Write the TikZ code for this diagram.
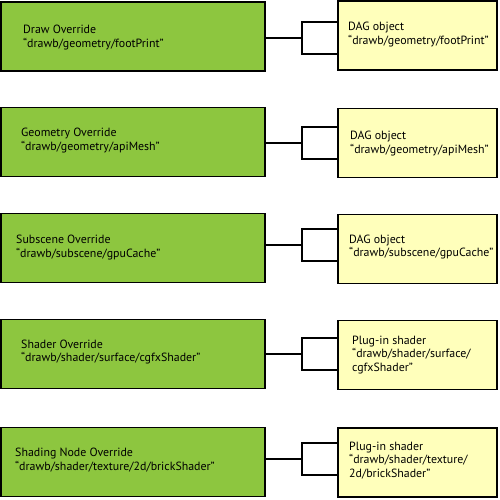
\documentclass[tikz,border=0pt]{standalone}
\usepackage{fontspec}
\setmainfont{PT Sans}
\usepackage{tikz}
\usetikzlibrary{positioning}
\definecolor{ovgreen}{RGB}{141,198,63}
\definecolor{objyellow}{RGB}{255,255,187}
\tikzset{
  overridebox/.style={rectangle, draw=black, fill=ovgreen,
    minimum width=264pt, minimum height=69pt, line width=1.8pt, inner sep=0pt},
  objbox/.style={rectangle, draw=black, fill=objyellow,
    minimum width=159pt, minimum height=69pt, line width=1.8pt, inner sep=0pt},
  boxtext/.style={anchor=west, align=left, inner sep=0pt,
    font=\fontsize{11.9}{13.8}\selectfont},
  link/.style={line width=2pt, color=black}
}
\begin{document}
\begin{tikzpicture}[x=1pt, y=-1pt]
  \useasboundingbox (0,0) rectangle (500,499);

  % Override boxes
  \node[overridebox] (g1) at (133,36.5) {};
  \node[overridebox] (g2) at (133,142) {};
  \node[overridebox] (g3) at (133,248) {};
  \node[overridebox] (g4) at (133,354) {};
  \node[overridebox] (g5) at (133,462) {};

  % Object boxes
  \node[objbox] (o1) at (417.5,35.5) {};
  \node[objbox] (o2) at (417.5,143) {};
  \node[objbox] (o3) at (417.5,249) {};
  \node[objbox] (o4) at (417.5,355) {};
  \node[objbox] (o5) at (417.5,462.5) {};

  % Labels
  \node[boxtext] (g1t) at (23,37.5) {Draw Override\\“drawb/geometry/footPrint”};
  \node[boxtext] (g2t) at (21,140.5) {Geometry Override\\“drawb/geometry/apiMesh”};
  \node[boxtext] (g3t) at (16,247.5) {Subscene Override\\“drawb/subscene/gpuCache”};
  \node[boxtext] (g4t) at (21,352) {Shader Override\\“drawb/shader/surface/cgfxShader”};
  \node[boxtext] (g5t) at (15,460) {Shading Node Override\\“drawb/shader/texture/2d/brickShader”};

  \node[boxtext] (o1t) at (348,34.5) {DAG object\\“drawb/geometry/footPrint”};
  \node[boxtext] (o2t) at (350,143.5) {DAG object\\“drawb/geometry/apiMesh”};
  \node[boxtext] (o3t) at (349,247) {DAG object\\“drawb/subscene/gpuCache”};
  \node[boxtext] (o4t) at (352,355) {Plug-in shader\\“drawb/shader/surface/\\cgfxShader”};
  \node[boxtext] (o5t) at (349,460.5) {Plug-in shader\\“drawb/shader/texture/\\2d/brickShader”};

  % Connectors
  \path (g1.east) ++(36,1.5) coordinate (j1);
  \path (g2.east) ++(36,1) coordinate (j2);
  \path (g3.east) ++(36,-3) coordinate (j3);
  \path (g4.east) ++(36,0) coordinate (j4);
  \path (g5.east) ++(36,-3) coordinate (j5);

  \draw[link] (g1.east |- j1) -- (j1);
  \draw[link] (g2.east |- j2) -- (j2);
  \draw[link] (g3.east |- j3) -- (j3);
  \draw[link] (g4.east |- j4) -- (j4);
  \draw[link] (g5.east |- j5) -- (j5);

  \draw[link] ([yshift=16pt]o1.west |- j1) -| (j1) |- ([yshift=-16pt]o1.west |- j1);
  \draw[link] ([yshift=16pt]o2.west |- j2) -| (j2) |- ([yshift=-16pt]o2.west |- j2);
  \draw[link] ([yshift=16pt]o3.west |- j3) -| (j3) |- ([yshift=-16pt]o3.west |- j3);
  \draw[link] ([yshift=16pt]o4.west |- j4) -| (j4) |- ([yshift=-16pt]o4.west |- j4);
  \draw[link] ([yshift=16pt]o5.west |- j5) -| (j5) |- ([yshift=-16pt]o5.west |- j5);
\end{tikzpicture}
\end{document}
